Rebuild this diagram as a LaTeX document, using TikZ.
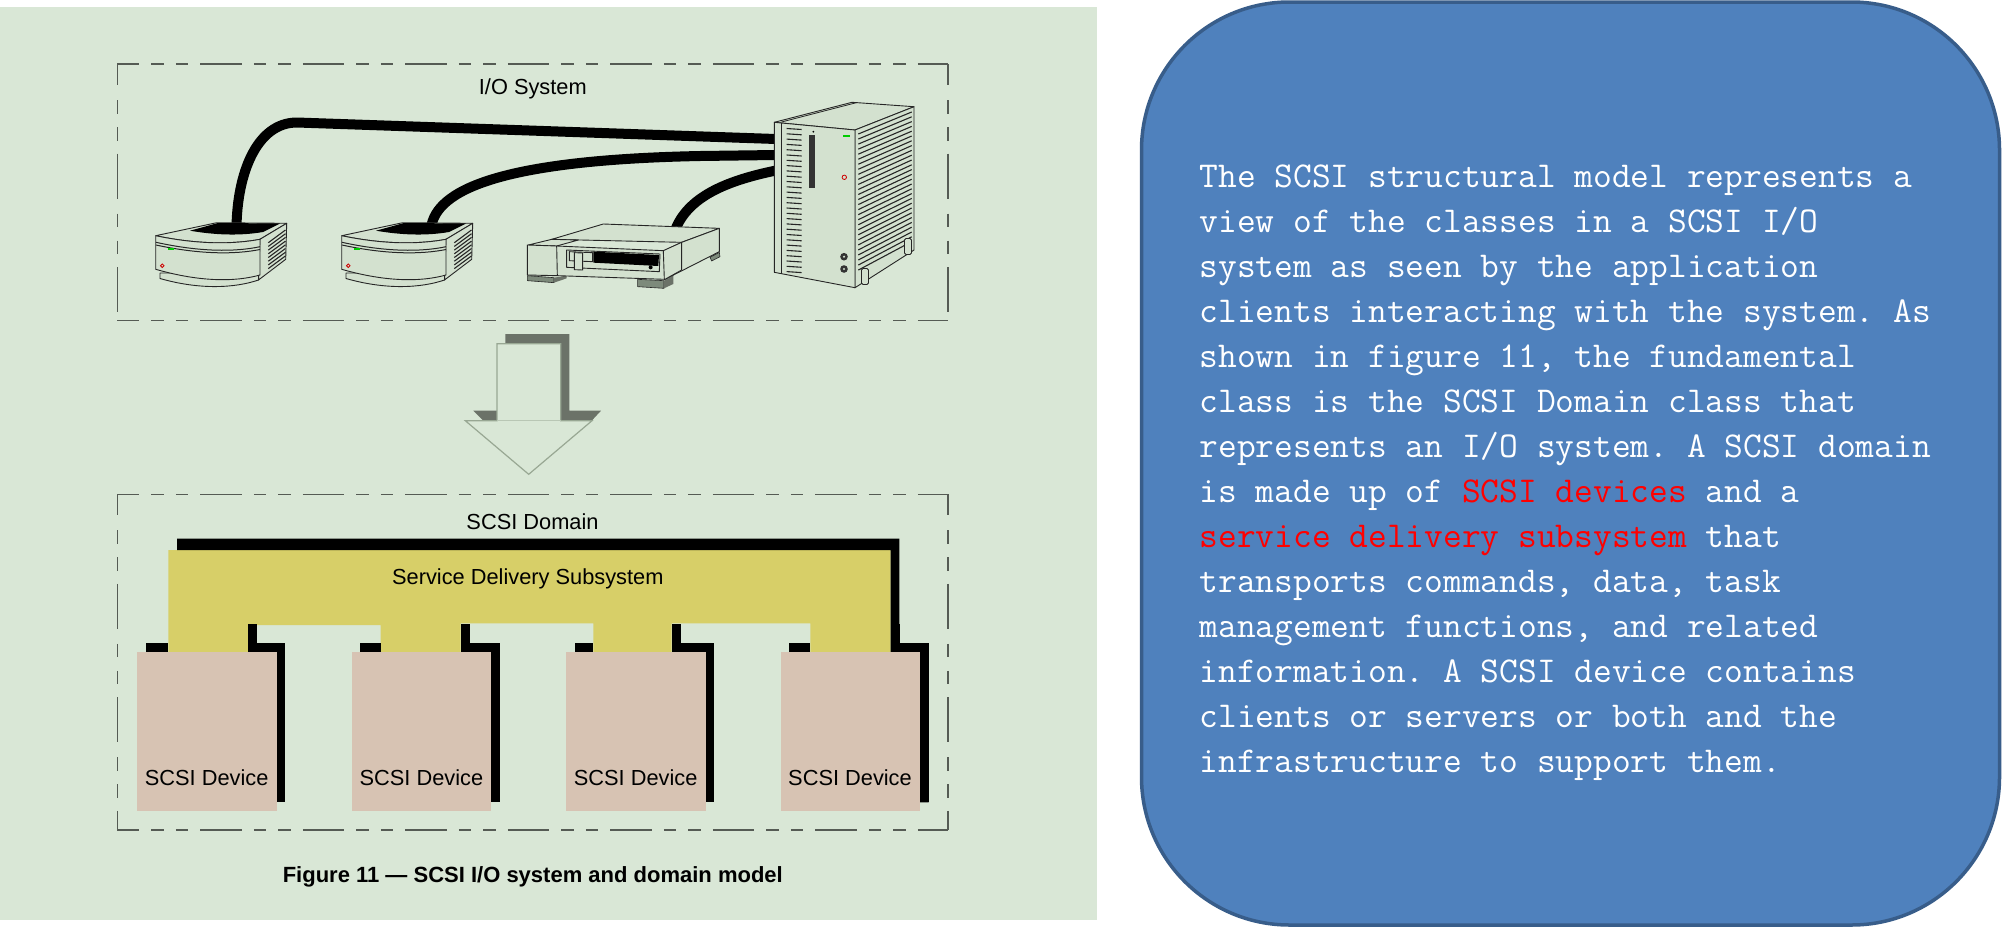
\documentclass[tikz,border=0pt]{standalone}
\usepackage{fontspec}
\setmainfont{Liberation Sans}
\usetikzlibrary{positioning}
\definecolor{panelgreen}{HTML}{D9E7D6}
\definecolor{unitface}{HTML}{D3E1CF}
\definecolor{bandyellow}{HTML}{D7CF68}
\definecolor{devbeige}{HTML}{D7C3B3}
\definecolor{boxblue}{HTML}{4F81BD}
\definecolor{boxedge}{HTML}{385D8A}
\definecolor{arrowshade}{HTML}{6B7268}
\definecolor{arrowedge}{HTML}{98A793}
\definecolor{footgray}{HTML}{7D8A7B}
\definecolor{dashgray}{HTML}{555B54}
\tikzset{
    dashh/.style={draw=dashgray, line width=1.5pt, dash pattern=on 41.5pt off 12pt on 12.5pt off 12pt on 12.5pt off 12pt, dash phase=19.5pt},
    dashv/.style={draw=dashgray, line width=1.5pt, dash pattern=on 45pt off 15pt on 13.5pt off 13.5pt on 13.5pt off 13pt, dash phase=24pt},
    devbox/.style={fill=devbeige, minimum width=139.3pt, minimum height=159pt, inner sep=0pt, anchor=north west},
    caplabel/.style={font=\fontsize{21.8pt}{24pt}\selectfont, inner sep=0pt, anchor=base},
    bodytext/.style={font=\fontsize{36.4pt}{45pt}\ttfamily\selectfont\frenchspacing, text=white, align=left, inner sep=0pt, anchor=north west},
    cable/.style={line width=10pt, black},
    unit/.style={draw=black!85, line width=0.9pt, fill=unitface, line join=round},
    foot/.style={draw=black!85, line width=0.6pt, fill=footgray, line join=round},
}
\begin{document}
\begin{tikzpicture}[x=1pt, y=-1pt]
    \useasboundingbox (0, 0) rectangle (2002, 927);
    \fill[white] (0, 0) rectangle (2002, 927);
    \fill[panelgreen] (0, 6.5) rectangle (1097, 920);

    % dashed frames
    \foreach \ytop/\ybot in {64/320.5, 494.3/830} {
        \draw[dashh] (117.3, \ytop) -- (948, \ytop);
        \draw[dashh] (117.3, \ybot) -- (948, \ybot);
        \draw[dashv] (117.3, \ytop) -- (117.3, \ybot);
        \draw[dashv] (948, \ytop) -- (948, \ybot);
    }
    \node[caplabel] (iolabel) at (532.8, 94) {I/O System};

    % cables
    \draw[cable] (236.5, 228) .. controls (237, 175) and (256, 122.5) .. (297, 122.5) -- (776, 139);
    \draw[cable] (431, 228) .. controls (436, 190) and (500, 160) .. (700, 156) -- (776, 155);
    \draw[cable] (676, 228) .. controls (690, 195) and (730, 180) .. (776, 170.5);

    % drives
    \foreach \dx in {0, 186} {
        \begin{scope}[xshift=\dx pt]
            \draw[unit] (160, 273) -- (160, 278.5) .. controls (200, 290) and (235, 288) .. (258.5, 280) -- (258.5, 273) -- cycle;
            \draw[unit] (155.7, 235.7) -- (216.7, 222.7) -- (286.7, 223.3) -- (260, 239.3) .. controls (235, 244) and (200, 245) .. (155.7, 235.7) -- cycle;
            \fill[black] (190, 230.7) -- (218, 223) -- (280, 223.5) -- (263, 232) .. controls (240, 236) and (215, 235) .. (190, 230.7) -- cycle;
            \draw[unit] (260, 239.3) -- (286.7, 223.3) -- (285.7, 259.3) -- (258.5, 280) -- cycle;
            \draw[unit] (155.7, 235.7) .. controls (200, 245) and (235, 244) .. (260, 239.3) -- (260, 275) .. controls (235, 282) and (200, 282) .. (155.7, 269.3) -- cycle;
            \draw[black!85, line width=1pt] (156, 242.3) .. controls (200, 252) and (235, 252) .. (260, 246.7);
            \draw[black!85, line width=1pt] (156, 245) .. controls (200, 254.5) and (235, 254.5) .. (260, 249.5);
            \foreach \i in {0, ..., 7}
                \draw[black!85, line width=1.1pt] (268.3, 242.7 + \i*3.7) -- (285.5, 230 + \i*3.7);
            \fill[green!80!black] (168, 247.5) rectangle (174, 250);
            \draw[red!80!black, line width=0.8pt] (162.3, 265.7) circle (1.8);
        \end{scope}
    }

    % tape unit
    \begin{scope}[shift={(510, 210)}, x=0.3333pt, y=-0.3333pt]
        \draw[foot] (52, 197) -- (132, 203) -- (132, 218) -- (52, 212) -- cycle;
        \fill[arrowshade] (132, 203) -- (170, 197) -- (170, 205) -- (132, 218) -- cycle;
        \draw[foot] (383, 208) -- (462, 212) -- (462, 235) -- (383, 230) -- cycle;
        \fill[arrowshade] (462, 212) -- (490, 197) -- (490, 222) -- (462, 235) -- cycle;
        \draw[foot] (600, 142) -- (628, 127) -- (630, 140) -- (605, 153) -- cycle;
        \draw[unit] (125, 88) -- (280, 42) -- (628, 55) -- (515, 97) -- cycle;
        \draw[unit] (55, 105) -- (125, 88) -- (205, 90) -- (140, 108) -- cycle;
        \draw[unit] (515, 97) -- (628, 55) -- (628, 125) -- (465, 208) -- (462, 122) -- cycle;
        \draw[unit] (52, 105) -- (140, 108) -- (460, 122) -- (515, 97) -- (515, 180) -- (465, 208) -- (142, 197) -- (52, 195) -- cycle;
        \draw[black!85, line width=0.9pt] (140, 108) -- (142, 197) (460, 122) -- (463, 208);
        \draw[unit] (170, 120) -- (450, 132) -- (448, 185) -- (170, 172) -- cycle;
        \fill[black] (250, 125) -- (447, 135) -- (445, 168) -- (250, 158) -- cycle;
        \draw[unit] (178, 125) -- (248, 128) -- (248, 155) -- (178, 152) -- cycle;
        \draw[unit] (193, 128) -- (218, 129) -- (218, 180) -- (193, 179) -- cycle;
        \fill[black] (422, 172) circle (6);
    \end{scope}

    % tower
    \draw[unit] (774.3, 122.3) -- (852, 102.3) -- (914, 106.7) -- (855, 130) -- cycle;
    \draw[unit] (855, 130) -- (914, 106.7) -- (914, 250) -- (855, 287.7) -- cycle;
    \draw[unit] (774.3, 122.3) -- (855, 130) -- (855, 287.7) -- (774.3, 272.3) -- cycle;
    \draw[black!85, line width=1.8pt] (781.5, 123.3) -- (781.5, 274);
    \draw[black!85, line width=0.8pt] (781.5, 122) -- (857, 102.5);
    \foreach \i in {0, ..., 27} {
        \draw[black!85, line width=1.1pt] (786.7, 128.5 + \i*5.3) -- (801.7, 129.5 + \i*5.3);
        \draw[black!85, line width=1.1pt] (858.3, 134 + \i*5.04) -- (911.7, 112 + \i*4.8);
    }
    \fill[black!80] (809.3, 135) rectangle (815, 188.3);
    \fill[black] (813.3, 131.7) circle (1);
    \fill[green!80!black] (843.3, 135) rectangle (850, 137);
    \draw[red!80!black, line width=0.8pt] (844.3, 177.3) circle (2.2);
    \foreach \y in {256.7, 269} {
        \fill[black!80] (844, \y) circle (3.8);
        \fill[unitface] (844, \y) circle (1.2);
    }
    \foreach \fx/\fy in {865/276.5, 908/246.5} {
        \draw[unit, rounded corners=1.5pt] (\fx - 3.5, \fy - 8) rectangle (\fx + 3.5, \fy + 8);
    }

    % big down arrow
    \fill[arrowshade] (505.3, 334) -- (569.3, 334) -- (569.3, 410.7) -- (601, 410.7) -- (591.7, 420.7) -- (483.3, 420.7) -- (473.3, 410.7) -- (505.3, 410.7) -- cycle;
    \draw[draw=arrowedge, line width=1.2pt, fill=panelgreen] (497, 420.7) -- (497, 343.7) -- (560.7, 343.7) -- (560.7, 420.7) -- (592, 420.7) -- (528.7, 474.3) -- (465.3, 420.7) -- cycle;
    \draw[arrowedge!50!panelgreen, line width=1pt] (497, 420.7) -- (560.7, 420.7);

    % service delivery subsystem
    \fill[bandyellow] (168.3, 550) -- (890.7, 550) -- (890.7, 652) -- (810.3, 652) -- (810.3, 623.3) -- (671.7, 623.3) -- (671.7, 652) -- (593.3, 652) -- (593.3, 623.3) -- (460.7, 623.3) -- (460.7, 652) -- (380.7, 652) -- (380.7, 625) -- (248.3, 625) -- (248.3, 652) -- (168.3, 652) -- cycle;
    \fill[black] (177, 538.7) -- (899.3, 538.7) -- (899.3, 643.3) -- (928.7, 643.3) -- (928.7, 802.3) -- (890.7, 802.3) -- (890.7, 550) -- (177, 550) -- cycle;
    \node[caplabel] (domainlabel) at (532.5, 529) {SCSI Domain};
    \node[caplabel] (sdslabel) at (527.8, 584.3) {Service Delivery Subsystem};

    % devices
    \foreach \i/\lx/\ll/\lm/\lr in {1/137/145.7/168.3/248.3, 2/351.7/360/380.7/460.7, 3/566/574.7/593.3/671.7, 4/780.3/789.3/810.3/890.7} {
        \fill[black] (\ll, 643.3) rectangle (\lm, 652);
        \fill[black] (\lr, 624) rectangle (\lr + 9, 652);
        \fill[black] (\lr, 643.3) rectangle (\lx + 148.3, 652);
        \fill[black] (\lx + 139.3, 643.3) rectangle (\lx + 148.3, 802.3);
        \node[devbox] (dev\i) at (\lx, 652) {};
        \node[caplabel] (devlabel\i) at (\lx + 69.7, 785) {SCSI Device};
    }

    \node[caplabel, font=\fontsize{22pt}{24pt}\bfseries\selectfont] (figcaption) at (532.8, 882.3) {Figure 11 — SCSI I/O system and domain model};

    % right hand text panel
    \node[fill=boxblue, draw=boxedge, line width=3.5pt, rounded corners=148pt, minimum width=858pt, minimum height=923pt, inner sep=0pt] (infobox) at (1570.5, 463.5) {};
    \node[bodytext] (infotext) at (1199.5, 164.5) {The SCSI structural model represents a\\
view of the classes in a SCSI I/O\\
system as seen by the application\\
clients interacting with the system. As\\
shown in figure 11, the fundamental\\
class is the SCSI Domain class that\\
represents an I/O system. A SCSI domain\\
is made up of \textcolor{red}{SCSI devices} and a\\
\textcolor{red}{service delivery subsystem} that\\
transports commands, data, task\\
management functions, and related\\
information. A SCSI device contains\\
clients or servers or both and the\\
infrastructure to support them.};
\end{tikzpicture}
\end{document}
